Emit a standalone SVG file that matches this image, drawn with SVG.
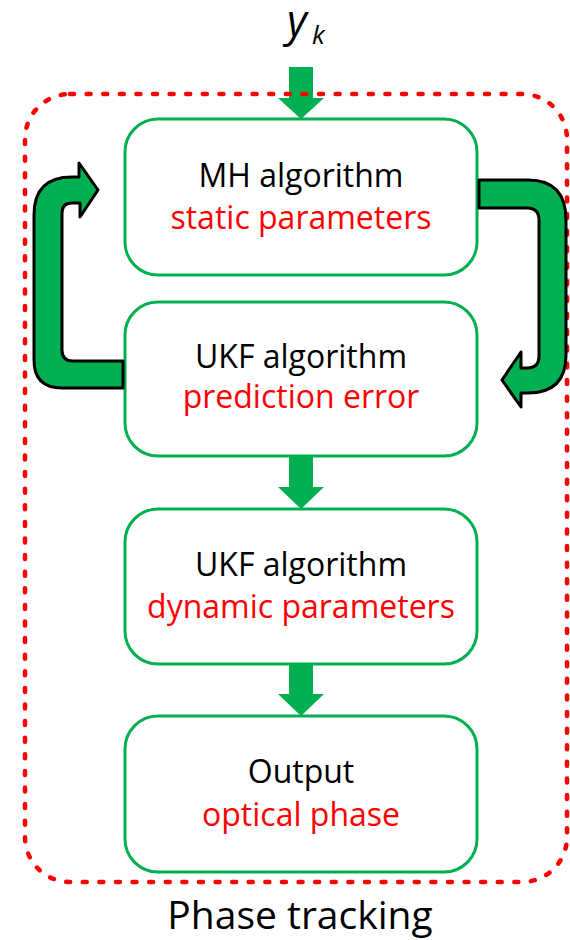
<svg xmlns="http://www.w3.org/2000/svg" width="570" height="940" viewBox="0 0 570 940">
<style>
.box{fill:#fff;stroke:#00b050;stroke-width:3}
.flow{fill:#00b050;stroke:none}
.loop{fill:#00b050;stroke:#000;stroke-width:3;stroke-linejoin:round}
.t{font-family:"Open Sans","Liberation Sans",sans-serif;font-size:32px;text-anchor:middle}
.k{fill:#000}
.r{fill:#ff0000}
</style>
<rect width="570" height="940" fill="#fff"/>
<g id="input-label">
<text x="287" y="36" font-family="'Open Sans','Liberation Sans',sans-serif" font-style="italic" font-size="43" fill="#000">y</text>
<text x="312" y="44" font-family="'Open Sans','Liberation Sans',sans-serif" font-style="italic" font-size="26" fill="#000">k</text>
</g>
<g id="connectors">
<polygon class="flow" points="289,67 313,67 313,98 324,98 301,119 278,98 289,98"/>
<polygon class="flow" points="289,456 313,456 313,487 324,487 301,509 278,487 289,487"/>
<polygon class="flow" points="289,664 313,664 313,694 324,694 301,716 278,694 289,694"/>
</g>
<g id="phase-tracking">
<rect x="25" y="94" width="542" height="788" rx="45" ry="45" fill="none" stroke="#ff0000" stroke-width="4.5" stroke-dasharray="4 12.6" stroke-linecap="round"/>
<text class="t k" x="300" y="929" font-size="39" style="font-size:39px">Phase tracking</text>
</g>
<g id="mh">
<rect class="box" x="125" y="119" width="352" height="156" rx="33"/>
<text class="t k" x="301" y="187">MH algorithm</text>
<text class="t r" x="301" y="229">static parameters</text>
</g>
<g id="ukf-pe">
<rect class="box" x="125" y="302" width="352" height="154" rx="33"/>
<text class="t k" x="301" y="368">UKF algorithm</text>
<text class="t r" x="301" y="408">prediction error</text>
</g>
<g id="ukf-dp">
<rect class="box" x="125" y="509" width="352" height="155" rx="33"/>
<text class="t k" x="301" y="576">UKF algorithm</text>
<text class="t r" x="301" y="618">dynamic parameters</text>
</g>
<g id="output">
<rect class="box" x="125" y="716" width="352" height="156" rx="33"/>
<text class="t k" x="301" y="783">Output</text>
<text class="t r" x="301" y="826">optical phase</text>
</g>
<g id="feedback-connectors">
<path class="loop" d="M123,388 L62,388 Q34,388 34,360 L34,215 Q34,177 72,177 L79,177 L79,163 L98,190 L80,217 L80,203 L72,203 Q62,203 62,213 L62,350 Q62,361 73,361 L123,361 Z"/>
<path class="loop" d="M479,180 L528,180 Q566,180 566,220 L566,355 Q566,393 528,393 L521,393 L521,407 L502,380 L521,352 L521,368 L527,368 Q539,368 539,356 L539,220 Q539,208 527,208 L479,208 Z"/>
</g>
</svg>
